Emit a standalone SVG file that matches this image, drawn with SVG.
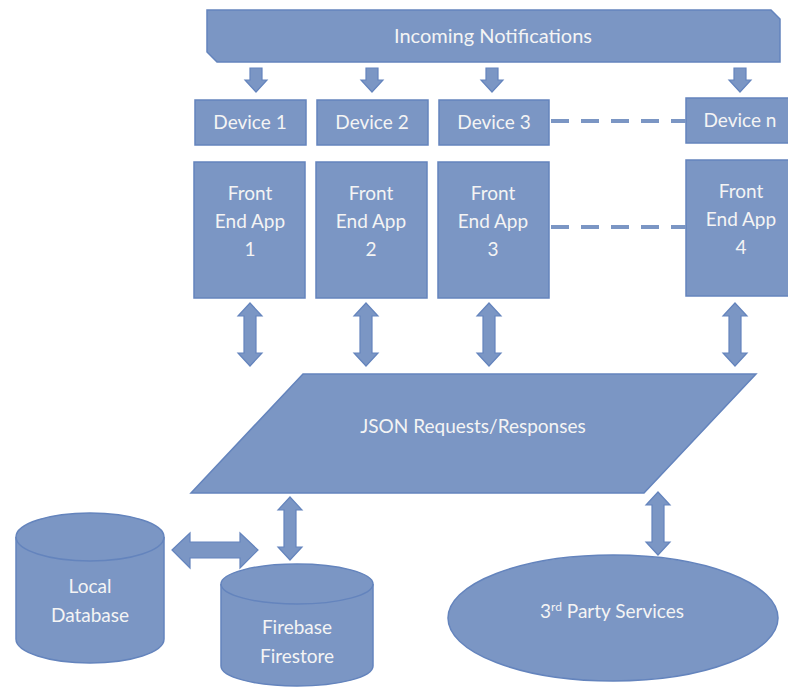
<svg xmlns="http://www.w3.org/2000/svg" width="788" height="689" viewBox="0 0 788 689">
<style>
.n{fill:#7b96c4;stroke:#6484bd;stroke-width:1.5}
.a{fill:#7b96c4;stroke:#6484bd;stroke-width:1.2}
.t{font-family:Lato,"Open Sans","Liberation Sans",sans-serif;font-size:19px;fill:#f4f4f4;text-anchor:middle}
.d{stroke:#7b96c4;stroke-width:4;stroke-dasharray:18 12;fill:none}
</style>
<rect width="788" height="689" fill="#ffffff"/>
<g id="incoming">
<path class="n" d="M207,10 L771,10 L780,19 L780,62 L217,62 L207,52 Z"/>
<text class="t" x="493" y="43" style="font-size:20px">Incoming Notifications</text>
</g>
<g id="device1"><rect class="n" x="195" y="100" width="111" height="45"/><text class="t" x="250" y="129">Device 1</text></g>
<g id="device2"><rect class="n" x="317" y="100" width="111" height="45"/><text class="t" x="372" y="129">Device 2</text></g>
<g id="device3"><rect class="n" x="439" y="100" width="110" height="45"/><text class="t" x="494" y="129">Device 3</text></g>
<g id="devicen"><rect class="n" x="686" y="98" width="110" height="45"/><text class="t" x="740" y="127">Device n</text></g>
<g id="app1"><rect class="n" x="194" y="162" width="111" height="136"/><text class="t" x="250" y="200">Front</text><text class="t" x="250" y="228">End App</text><text class="t" x="250" y="256">1</text></g>
<g id="app2"><rect class="n" x="316" y="162" width="111" height="136"/><text class="t" x="371" y="200">Front</text><text class="t" x="371" y="228">End App</text><text class="t" x="371" y="256">2</text></g>
<g id="app3"><rect class="n" x="438" y="162" width="111" height="136"/><text class="t" x="493" y="200">Front</text><text class="t" x="493" y="228">End App</text><text class="t" x="493" y="256">3</text></g>
<g id="app4"><rect class="n" x="686" y="160" width="110" height="136"/><text class="t" x="741" y="198">Front</text><text class="t" x="741" y="226">End App</text><text class="t" x="741" y="254">4</text></g>
<g id="json">
<path class="n" d="M303,374 L756,374 L644,493 L191,493 Z"/>
<text class="t" x="473" y="433">JSON Requests/Responses</text>
</g>
<g id="localdb">
<path class="n" d="M16,537 L16,639 A74,24 0 0 0 164,639 L164,537"/>
<ellipse class="n" cx="90" cy="537" rx="74" ry="24"/>
<text class="t" x="90" y="593">Local</text>
<text class="t" x="90" y="622">Database</text>
</g>
<g id="firebase">
<path class="n" d="M221,584 L221,666 A76,20 0 0 0 373,666 L373,584"/>
<ellipse class="n" cx="297" cy="584" rx="76" ry="20"/>
<text class="t" x="297" y="634">Firebase</text>
<text class="t" x="297" y="663">Firestore</text>
</g>
<g id="thirdparty">
<ellipse class="n" cx="613" cy="618" rx="165" ry="63"/>
<text class="t" x="612" y="618">3<tspan font-size="12" dy="-7">rd</tspan><tspan dy="7"> Party Services</tspan></text>
</g>
<g id="connectors">
<path class="a" d="M250,68 L262,68 L262,80 L267,80 L256,92 L245,80 L250,80 Z"/>
<path class="a" d="M366,68 L378,68 L378,80 L383,80 L372,92 L361,80 L366,80 Z"/>
<path class="a" d="M486,68 L498,68 L498,80 L503,80 L492,92 L481,80 L486,80 Z"/>
<path class="a" d="M734,68 L746,68 L746,80 L751,80 L740,92 L729,80 L734,80 Z"/>
<line class="d" x1="551" y1="121" x2="686" y2="121"/>
<line class="d" x1="551" y1="227" x2="686" y2="227"/>
<path class="a" d="M250,303 L262,316 L256,316 L256,353 L262,353 L250,366 L238,353 L244,353 L244,316 L238,316 Z"/>
<path class="a" d="M366,303 L378,316 L372,316 L372,353 L378,353 L366,366 L354,353 L360,353 L360,316 L354,316 Z"/>
<path class="a" d="M489,303 L501,316 L495,316 L495,353 L501,353 L489,366 L477,353 L483,353 L483,316 L477,316 Z"/>
<path class="a" d="M735,303 L747,316 L741,316 L741,353 L747,353 L735,366 L723,353 L729,353 L729,316 L723,316 Z"/>
<path class="a" d="M290,497 L302,510 L296,510 L296,547 L302,547 L290,560 L278,547 L284,547 L284,510 L278,510 Z"/>
<path class="a" d="M658,492 L670,505 L664,505 L664,542 L670,542 L658,555 L646,542 L652,542 L652,505 L646,505 Z"/>
<path class="a" d="M172,550 L190,533 L190,542 L240,542 L240,533 L258,550 L240,568 L240,558 L190,558 L190,568 Z"/>
</g>
</svg>
